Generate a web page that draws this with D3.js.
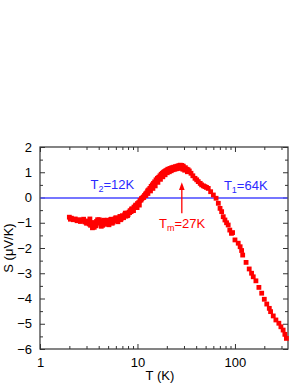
<!DOCTYPE html>
<html>
<head>
<meta charset="utf-8">
<script src="https://cdn.jsdelivr.net/npm/d3@7"></script>
<style>
  body { margin: 0; background: #fff; }
  text { font-family: Arial, "Liberation Sans", sans-serif; }
</style>
</head>
<body>
<div id="chart"></div>
<script>
// temperature (K) and thermopower S (uV/K)
const temps = [
  2.0, 2.05, 2.1, 2.2, 2.3, 2.4, 2.5, 2.6, 2.7, 2.8, 2.9, 3.0, 3.1, 3.2, 3.3, 3.4, 3.5, 3.6, 3.7, 3.8,
  3.9, 4.0, 4.1, 4.2, 4.3, 4.4, 4.5, 4.6, 4.7, 4.8, 4.9, 5.0, 5.2, 5.4, 5.6, 5.8, 6.0, 6.2, 6.4, 6.6,
  6.8, 7.0, 7.2, 7.4, 7.6, 7.8, 8.0, 8.2, 8.4, 8.6, 8.8, 9.0, 9.2, 9.4, 9.6, 9.8, 10.0, 10.3, 10.6, 10.9,
  11.2, 11.5, 11.8, 12.1, 12.4, 12.7, 13.0, 13.4, 13.8, 14.2, 14.6, 15.0, 15.5, 16.0, 16.5, 17.0, 17.5, 18.0, 18.5, 19.0,
  19.5, 20.0, 20.5, 21, 21.5, 22, 22.5, 23, 23.5, 24, 24.5, 25, 25.5, 26, 26.5, 27, 27.5, 28, 28.5, 29,
  29.5, 30, 31, 32, 33, 34, 35.4, 37, 38.9, 40.5, 42, 44, 45.5, 47.5, 49.2, 51, 53.2, 56.3, 60, 64,
  67.5, 70.3, 73, 75.8, 78.9, 82, 85.2, 88.5, 92, 94.5, 100, 108, 113, 117, 120, 130, 140, 148, 154, 164,
  176, 188, 200, 212, 225, 232, 247, 263, 282, 296, 312, 325, 337,
  // second sweep, seen as the thicker band from 3 K to 30 K
  3.25, 3.45, 3.55, 3.75, 4.05, 4.25, 4.55, 5.1, 5.3, 5.5, 5.9, 6.3, 6.7, 7.1, 7.5, 7.9, 8.3, 8.7, 9.1, 9.5,
  9.9, 10.45, 11.0, 11.6, 12.2, 12.8, 13.6, 14.4, 15.2, 16.2, 17.2, 18.2, 19.2, 20.2, 21.2, 22.2, 23.2, 24.2, 25.2, 26.2,
  27.2, 28.2, 29.2, 30.5, 32.5
];
const seebeck = [
  -0.78, -0.86, -0.82, -0.88, -0.85, -0.92, -0.88, -0.95, -0.9, -0.86, -0.97, -1.02, -0.93, -1.05, -1.1, -1.0, -1.15, -1.18, -1.05, -0.95,
  -0.88, -1.0, -0.92, -1.05, -0.98, -1.1, -1.02, -0.92, -1.06, -0.98, -0.9, -1.02, -0.95, -0.86, -0.98, -0.9, -0.8, -0.92, -0.84, -0.75,
  -0.85, -0.72, -0.8, -0.68, -0.74, -0.62, -0.68, -0.58, -0.52, -0.56, -0.45, -0.48, -0.38, -0.4, -0.3, -0.32, -0.24, -0.2, -0.12, -0.1,
  -0.02, 0.02, 0.08, 0.14, 0.18, 0.26, 0.3, 0.36, 0.44, 0.5, 0.56, 0.62, 0.7, 0.76, 0.8, 0.86, 0.92, 0.96, 1.0, 1.03,
  1.06, 1.08, 1.12, 1.1, 1.15, 1.14, 1.18, 1.16, 1.2, 1.19, 1.22, 1.2, 1.24, 1.22, 1.26, 1.24, 1.28, 1.22, 1.27, 1.2,
  1.24, 1.16, 1.18, 1.12, 1.1, 1.05, 0.96, 0.86, 0.76, 0.7, 0.63, 0.56, 0.5, 0.46, 0.43, 0.4, 0.36, 0.23, 0.1, -0.03,
  -0.23, -0.43, -0.56, -0.76, -0.89, -1.0, -1.09, -1.29, -1.42, -1.39, -1.68, -1.81, -1.95, -2.1, -2.28, -2.57, -2.83, -3.0, -3.14, -3.3,
  -3.56, -3.79, -4.03, -4.22, -4.39, -4.52, -4.69, -4.85, -4.98, -5.12, -5.25, -5.42, -5.58,
  -0.85, -1.2, -1.0, -1.12, -0.88, -1.14, -0.9, -1.08, -0.88, -1.02, -0.84, -0.96, -0.88, -0.78, -0.62, -0.72, -0.6, -0.46, -0.52, -0.34,
  -0.4, -0.3, -0.04, 0.0, 0.08, 0.16, 0.26, 0.36, 0.46, 0.6, 0.72, 0.82, 0.9, 0.98, 1.02, 1.06, 1.1, 1.12, 1.14, 1.16,
  1.18, 1.16, 1.12, 1.08, 1.02
];
const xTickValues = [1, 10, 100];
const yTickValues = [-6, -5, -4, -3, -2, -1, 0, 1, 2];

const width = 298, height = 385;
const margin = {top: 147, right: 10, bottom: 36, left: 40};
const iw = width - margin.left - margin.right;
const ih = height - margin.top - margin.bottom;

const svg = d3.select("#chart").append("svg")
  .attr("width", width)
  .attr("height", height);

const g = svg.append("g")
  .attr("transform", `translate(${margin.left},${margin.top})`);

const x = d3.scaleLog().domain([1, 350]).range([0, iw]);
const y = d3.scaleLinear().domain([-6, 2]).range([ih, 0]);

// minor ticks
const xMinor = [];
for (let dec = 1; dec <= 100; dec *= 10) {
  for (let k = 2; k <= 9; k++) if (dec * k <= 350) xMinor.push(dec * k);
}
const yMinor = d3.range(-5.5, 2, 1);

const axisColor = "#333";

function styleAxis(sel) {
  sel.select(".domain").remove();
  sel.selectAll("line").attr("stroke", axisColor);
  sel.selectAll("text").attr("font-size", 13).attr("fill", "#000");
}

// bottom
g.append("g").attr("transform", `translate(0,${ih})`)
  .call(d3.axisBottom(x).tickValues(xTickValues).tickFormat(d3.format("d"))
    .tickSizeInner(-5).tickSizeOuter(0).tickPadding(9))
  .call(styleAxis);
g.append("g").attr("transform", `translate(0,${ih})`)
  .call(d3.axisBottom(x).tickValues(xMinor).tickFormat("").tickSizeInner(-3).tickSizeOuter(0))
  .call(styleAxis);
// top
g.append("g")
  .call(d3.axisTop(x).tickValues(xTickValues).tickFormat("").tickSizeInner(-5).tickSizeOuter(0))
  .call(styleAxis);
g.append("g")
  .call(d3.axisTop(x).tickValues(xMinor).tickFormat("").tickSizeInner(-3).tickSizeOuter(0))
  .call(styleAxis);
// left
g.append("g")
  .call(d3.axisLeft(y).tickValues(yTickValues).tickFormat(d3.format("d"))
    .tickSizeInner(-5).tickSizeOuter(0).tickPadding(8))
  .call(styleAxis);
g.append("g")
  .call(d3.axisLeft(y).tickValues(yMinor).tickFormat("").tickSizeInner(-3).tickSizeOuter(0))
  .call(styleAxis);
// right
g.append("g").attr("transform", `translate(${iw},0)`)
  .call(d3.axisRight(y).tickValues(yTickValues).tickFormat("").tickSizeInner(-5).tickSizeOuter(0))
  .call(styleAxis);
g.append("g").attr("transform", `translate(${iw},0)`)
  .call(d3.axisRight(y).tickValues(yMinor).tickFormat("").tickSizeInner(-3).tickSizeOuter(0))
  .call(styleAxis);

// frame
g.append("rect")
  .attr("width", iw).attr("height", ih)
  .attr("fill", "none").attr("stroke", axisColor).attr("stroke-width", 1.2);

// zero line
g.append("line")
  .attr("x1", 0.6).attr("x2", iw - 0.6)
  .attr("y1", y(0) + 0.5).attr("y2", y(0) + 0.5)
  .attr("stroke", "#4848ff").attr("stroke-width", 1.4);

// data
const pts = temps.map((t, i) => ({t: t, s: seebeck[i]}));
const ms = 4.8;
g.append("g").selectAll("rect")
  .data(pts)
  .enter().append("rect")
  .attr("x", d => x(d.t) - ms / 2)
  .attr("y", d => y(d.s) - ms / 2)
  .attr("width", ms).attr("height", ms)
  .attr("fill", "#ff0000");

// labels on the plot
function subLabel(t0, s0, sub, rest, color) {
  const t = g.append("text").attr("x", x(t0)).attr("y", y(s0))
    .attr("fill", color).attr("font-size", 13);
  t.append("tspan").text("T");
  t.append("tspan").attr("font-size", 9).attr("dy", 3).text(sub);
  t.append("tspan").attr("dy", -3).text(rest);
}
subLabel(3.3, 0.33, "2", "=12K", "#2a2aff");
subLabel(77, 0.3, "1", "=64K", "#2a2aff");
subLabel(16.6, -1.22, "m", "=27K", "#ff0000");

// arrow pointing to the maximum
const ax = x(28.5);
g.append("line")
  .attr("x1", ax).attr("x2", ax)
  .attr("y1", y(-0.62)).attr("y2", y(0.45))
  .attr("stroke", "#ff0000").attr("stroke-width", 1.3);
g.append("path")
  .attr("d", `M${ax},${y(0.6)} L${ax - 2.8},${y(0.3)} L${ax + 2.8},${y(0.3)} Z`)
  .attr("fill", "#ff0000");

// axis titles
svg.append("text")
  .attr("x", margin.left + x(17))
  .attr("y", 380)
  .attr("text-anchor", "middle")
  .attr("font-size", 13)
  .text("T (K)");
svg.append("text")
  .attr("transform", `translate(13,${margin.top + ih / 2}) rotate(-90)`)
  .attr("text-anchor", "middle")
  .attr("font-size", 13)
  .text("S (\u03BCV/K)");
</script>
</body>
</html>
